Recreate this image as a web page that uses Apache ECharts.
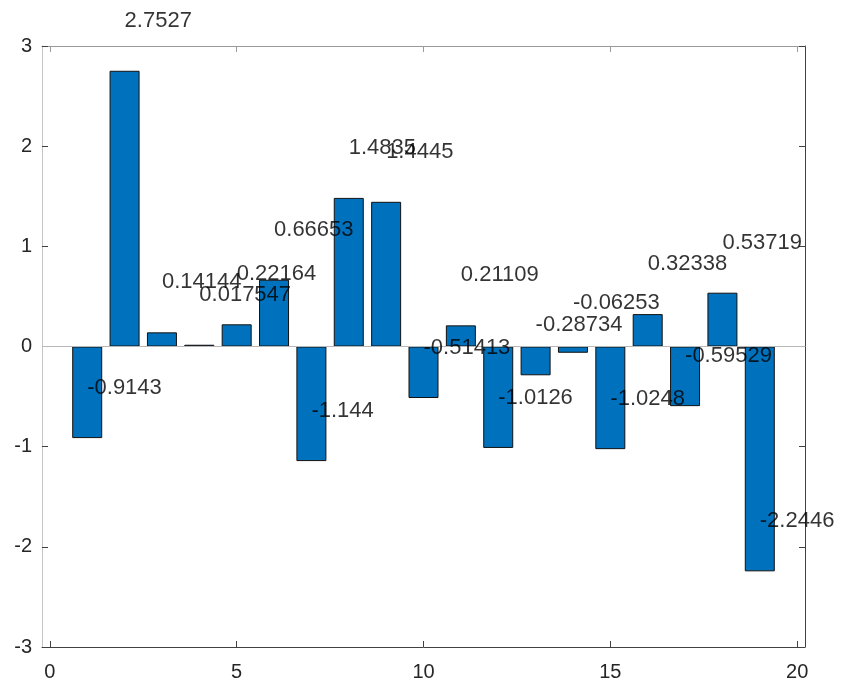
<!DOCTYPE html>
<html>
<head>
<meta charset="utf-8">
<script src="https://cdn.jsdelivr.net/npm/echarts@6/dist/echarts.min.js"></script>
<style>
html,body{margin:0;padding:0;background:#fff;}
#chart{width:841px;height:682px;}
</style>
</head>
<body>
<div id="chart"></div>
<script>
// Data
var positions = [1, 2, 3, 4, 5, 6, 7, 8, 9, 10, 11, 12, 13, 14, 15, 16, 17, 18, 19];
var values = [-0.9143, 2.7527, 0.14144, 0.017547, 0.22164, 0.66653, -1.144, 1.4835, 1.4445,
              -0.51413, 0.21109, -1.0126, -0.28734, -0.06253, -1.0248, 0.32338, -0.59529, 0.53719, -2.2446];
var labelTexts = ["-0.9143", "2.7527", "0.14144", "0.017547", "0.22164", "0.66653", "-1.144", "1.4835", "1.4445",
                  "-0.51413", "0.21109", "-1.0126", "-0.28734", "-0.06253", "-1.0248", "0.32338", "-0.59529", "0.53719", "-2.2446"];
var xTicks = [0, 5, 10, 15, 20];
var labelRise = 0.5; // text placed at (x, y + 0.5)

var barData = positions.map(function (x, i) { return [x, values[i]]; });
var textData = positions.map(function (x, i) { return [x, values[i] + labelRise, labelTexts[i]]; });

var chart = echarts.init(document.getElementById('chart'), null, {renderer: 'canvas'});
var fontFam = '"Liberation Sans", Arial, Helvetica, sans-serif';
var tickLabel = {color: '#262626', fontSize: 20, fontFamily: fontFam};

chart.setOption({
  animation: false,
  backgroundColor: '#ffffff',
  grid: {left: 42, right: 36, top: 46, bottom: 35, containLabel: false},
  xAxis: [{
    type: 'value', min: -0.21, max: 20.21, position: 'bottom',
    axisLine: {show: true, onZero: false, lineStyle: {color: '#404040', width: 1}},
    axisTick: {show: true, inside: true, length: 6, customValues: xTicks, lineStyle: {color: '#404040'}},
    axisLabel: Object.assign({show: true, margin: 15, customValues: xTicks}, tickLabel),
    splitLine: {show: false}
  }, {
    type: 'value', min: -0.21, max: 20.21, position: 'top',
    axisLine: {show: true, onZero: false, lineStyle: {color: '#9a9a9a', width: 1}},
    axisTick: {show: true, inside: true, length: 6, customValues: xTicks, lineStyle: {color: '#9a9a9a'}},
    axisLabel: {show: false},
    splitLine: {show: false}
  }],
  yAxis: [{
    type: 'value', min: -3, max: 3, interval: 1, position: 'left',
    axisLine: {show: true, onZero: false, lineStyle: {color: '#c4c4c4', width: 1}},
    axisTick: {show: true, inside: true, length: 6, lineStyle: {color: '#404040'}},
    axisLabel: Object.assign({show: true, margin: 10}, tickLabel),
    splitLine: {show: false}
  }, {
    type: 'value', min: -3, max: 3, interval: 1, position: 'right',
    axisLine: {show: true, onZero: false, lineStyle: {color: '#404040', width: 1}},
    axisTick: {show: true, inside: true, length: 6, lineStyle: {color: '#404040'}},
    axisLabel: {show: false},
    splitLine: {show: false}
  }],
  series: [{
    type: 'bar',
    xAxisIndex: 0, yAxisIndex: 0,
    data: barData,
    barWidth: 30,
    itemStyle: {color: '#0072BD', borderColor: '#111111', borderWidth: 1},
    markLine: {
      silent: true, symbol: 'none', label: {show: false},
      lineStyle: {color: '#b8b8b8', width: 1, type: 'solid'},
      data: [{yAxis: 0}]
    },
    z: 2
  }, {
    type: 'scatter',
    xAxisIndex: 0, yAxisIndex: 0,
    data: textData,
    symbolSize: 0,
    clip: false,
    silent: true,
    z: 10,
    label: {
      show: true, position: 'inside', align: 'left', verticalAlign: 'middle',
      color: '#000000', fontSize: 22, fontFamily: fontFam,
      formatter: function (p) { return p.data[2]; }
    }
  }]
});
</script>
</body>
</html>
